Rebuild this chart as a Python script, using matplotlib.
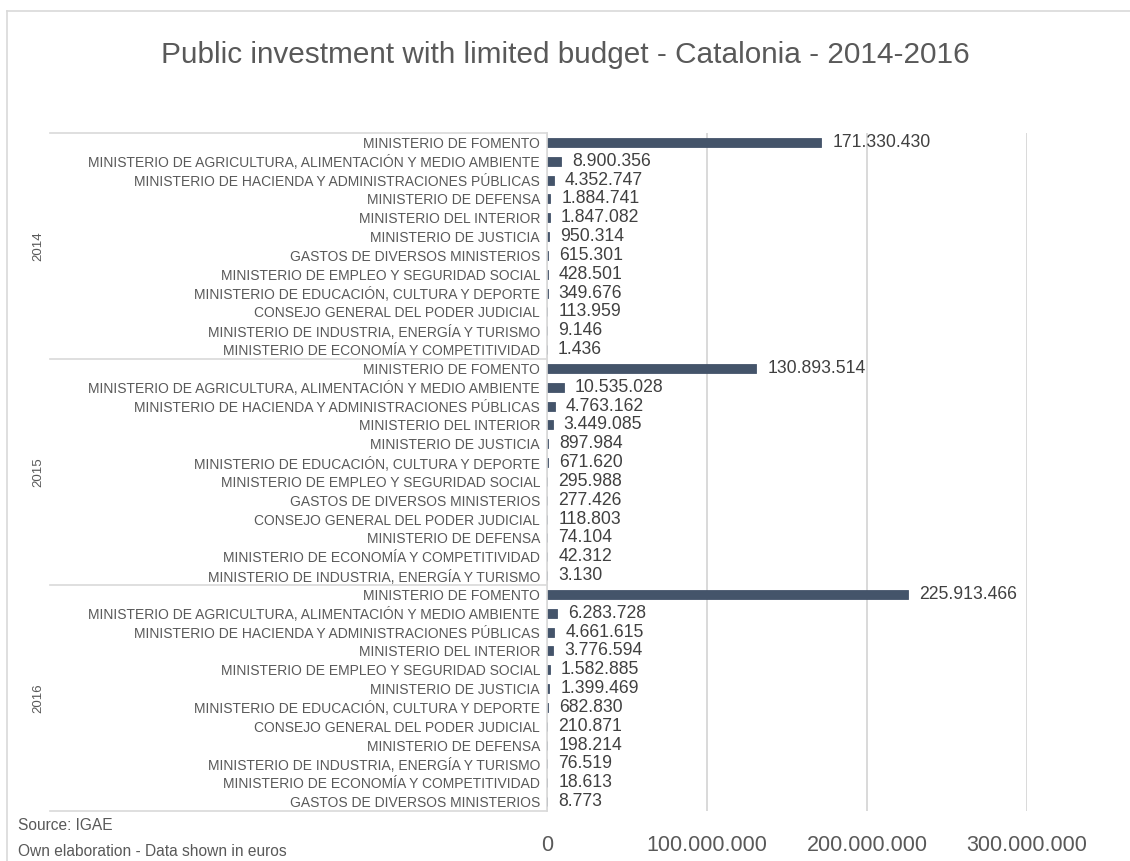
import numpy as np
import matplotlib
matplotlib.use("Agg")
import matplotlib.pyplot as plt
from matplotlib.lines import Line2D
from matplotlib.transforms import blended_transform_factory

plt.rcParams['font.family'] = ['Liberation Sans', 'DejaVu Sans']

# data, top to bottom within each year
years = ['2014', '2015', '2016']

labels_2014 = ['MINISTERIO DE FOMENTO',
               'MINISTERIO DE AGRICULTURA, ALIMENTACIÓN Y MEDIO AMBIENTE',
               'MINISTERIO DE HACIENDA Y ADMINISTRACIONES PÚBLICAS',
               'MINISTERIO DE DEFENSA',
               'MINISTERIO DEL INTERIOR',
               'MINISTERIO DE JUSTICIA',
               'GASTOS DE DIVERSOS MINISTERIOS',
               'MINISTERIO DE EMPLEO Y SEGURIDAD SOCIAL',
               'MINISTERIO DE EDUCACIÓN, CULTURA Y DEPORTE',
               'CONSEJO GENERAL DEL PODER JUDICIAL',
               'MINISTERIO DE INDUSTRIA, ENERGÍA Y TURISMO',
               'MINISTERIO DE ECONOMÍA Y COMPETITIVIDAD']
values_2014 = [171330430, 8900356, 4352747, 1884741, 1847082, 950314,
               615301, 428501, 349676, 113959, 9146, 1436]

labels_2015 = ['MINISTERIO DE FOMENTO',
               'MINISTERIO DE AGRICULTURA, ALIMENTACIÓN Y MEDIO AMBIENTE',
               'MINISTERIO DE HACIENDA Y ADMINISTRACIONES PÚBLICAS',
               'MINISTERIO DEL INTERIOR',
               'MINISTERIO DE JUSTICIA',
               'MINISTERIO DE EDUCACIÓN, CULTURA Y DEPORTE',
               'MINISTERIO DE EMPLEO Y SEGURIDAD SOCIAL',
               'GASTOS DE DIVERSOS MINISTERIOS',
               'CONSEJO GENERAL DEL PODER JUDICIAL',
               'MINISTERIO DE DEFENSA',
               'MINISTERIO DE ECONOMÍA Y COMPETITIVIDAD',
               'MINISTERIO DE INDUSTRIA, ENERGÍA Y TURISMO']
values_2015 = [130893514, 10535028, 4763162, 3449085, 897984, 671620,
               295988, 277426, 118803, 74104, 42312, 3130]

labels_2016 = ['MINISTERIO DE FOMENTO',
               'MINISTERIO DE AGRICULTURA, ALIMENTACIÓN Y MEDIO AMBIENTE',
               'MINISTERIO DE HACIENDA Y ADMINISTRACIONES PÚBLICAS',
               'MINISTERIO DEL INTERIOR',
               'MINISTERIO DE EMPLEO Y SEGURIDAD SOCIAL',
               'MINISTERIO DE JUSTICIA',
               'MINISTERIO DE EDUCACIÓN, CULTURA Y DEPORTE',
               'CONSEJO GENERAL DEL PODER JUDICIAL',
               'MINISTERIO DE DEFENSA',
               'MINISTERIO DE INDUSTRIA, ENERGÍA Y TURISMO',
               'MINISTERIO DE ECONOMÍA Y COMPETITIVIDAD',
               'GASTOS DE DIVERSOS MINISTERIOS']
values_2016 = [225913466, 6283728, 4661615, 3776594, 1582885, 1399469,
               682830, 210871, 198214, 76519, 18613, 8773]

xticks = [0, 100000000, 200000000, 300000000]

bar_color = '#44546A'
text_color = '#595959'
label_color = '#404040'
line_color = '#D9D9D9'

def fmt(v):
    return f"{v:,}".replace(',', '.')

groups = [labels_2014, labels_2015, labels_2016]
all_labels = labels_2014 + labels_2015 + labels_2016
all_values = values_2014 + values_2015 + values_2016
pos = np.arange(len(all_values))

W, H = 1130, 861
fig = plt.figure(figsize=(W / 100, H / 100), dpi=100)
ax = fig.add_axes([547 / W, 1 - 811 / H, (1027 - 547) / W, (811 - 133) / H])

bars = ax.barh(pos, all_values, height=0.47, color=bar_color,
               edgecolor=bar_color, linewidth=0.6)
ax.bar_label(bars, labels=[fmt(v) for v in all_values], padding=8,
             fontsize=12.7, color=label_color)

ax.set_ylim(len(all_values) - 0.5, -0.5)
ax.set_xlim(0, 300000000)
ax.set_yticks(pos)
ax.set_yticklabels(all_labels, fontsize=10, color=text_color)
ax.set_xticks(xticks)
ax.set_xticklabels([fmt(t) for t in xticks], fontsize=15.5, color=text_color)
ax.tick_params(axis='y', length=0, pad=5)
ax.tick_params(axis='x', length=0, pad=17)

for s in ['top', 'right', 'bottom']:
    ax.spines[s].set_visible(False)
ax.spines['left'].set_color(line_color)
ax.spines['left'].set_linewidth(1.2)
ax.xaxis.grid(True, color=line_color, linewidth=1.4)
ax.set_axisbelow(True)

# group separators of the category axis
tr = blended_transform_factory(fig.transFigure, ax.transData)
n = 0
bounds = [-0.5]
for g in groups:
    n += len(g)
    bounds.append(n - 0.5)
for b in bounds:
    fig.add_artist(Line2D([50 / W, 547 / W], [b, b], transform=tr,
                          color=line_color, linewidth=1.2))
start = 0
for yr, g in zip(years, groups):
    mid = start + (len(g) - 1) / 2
    fig.text(38 / W, mid, yr, transform=tr, rotation=90, ha='center',
             va='center', fontsize=9.5, color=text_color)
    start += len(g)

# chart frame
fig.add_artist(Line2D([7 / W, 7 / W], [0, 1 - 11 / H], color=line_color, linewidth=1.2))
fig.add_artist(Line2D([7 / W, 1], [1 - 11 / H, 1 - 11 / H], color=line_color, linewidth=1.2))

fig.text(0.5, 1 - 55 / H, 'Public investment with limited budget - Catalonia - 2014-2016',
         ha='center', va='center', fontsize=21.4, color=text_color)
fig.text(18 / W, 1 - 826 / H, 'Source: IGAE', ha='left', va='center',
         fontsize=11.2, color=text_color)
fig.text(18 / W, 1 - 851 / H, 'Own elaboration - Data shown in euros', ha='left',
         va='center', fontsize=11.2, color=text_color)

fig.savefig('out.png', dpi=100)
